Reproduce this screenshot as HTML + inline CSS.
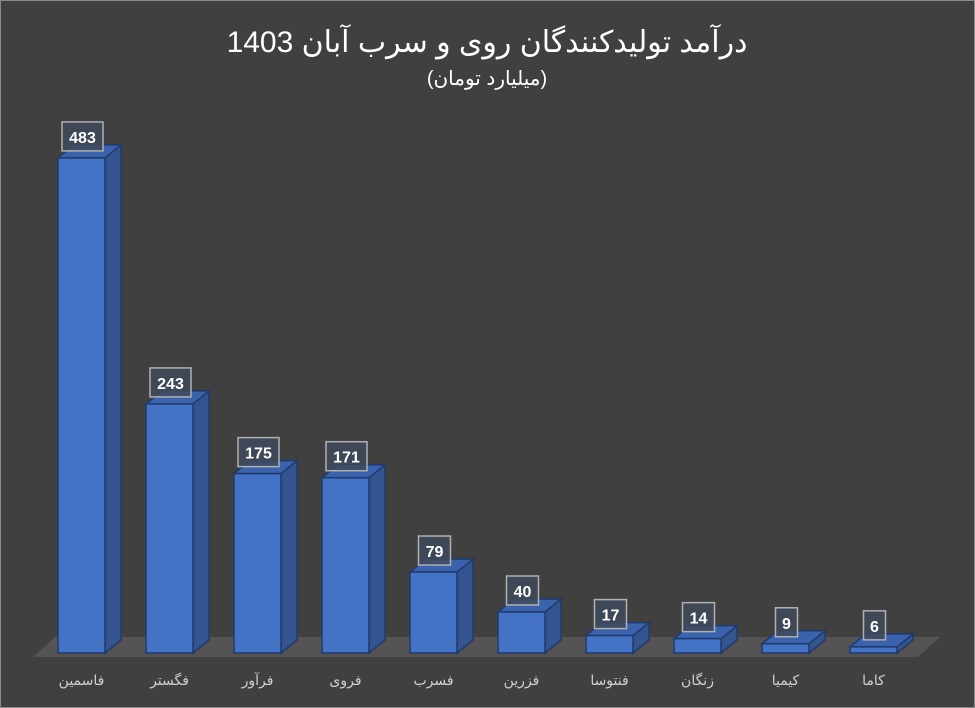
<!DOCTYPE html>
<html><head><meta charset="utf-8"><style>
body{margin:0;background:#404040;}
svg{display:block}
</style></head><body>
<svg width="975" height="708" viewBox="0 0 975 708" xmlns="http://www.w3.org/2000/svg">
<rect x="0.5" y="0.5" width="974" height="707" fill="#404040" stroke="#8a8a8a"/>
<text x="487" y="52" text-anchor="middle" font-family="Liberation Sans, Noto Sans CJK SC, DejaVu Sans, sans-serif" font-size="30" fill="#ffffff">درآمد تولیدکنندگان روی و سرب آبان 1403</text>
<text x="487" y="85" text-anchor="middle" font-family="Liberation Sans, DejaVu Sans, sans-serif" font-size="20" fill="#ffffff">(میلیارد تومان)</text>
<polygon points="33,657 918,657 940,637 55,637" fill="#555353"/>
<g id="bars" font-family="Liberation Sans, DejaVu Sans, sans-serif"></g>
</svg>
<script>
var d=[[483,"فاسمین"],[243,"فگستر"],[175,"فرآور"],[171,"فروی"],[79,"فسرب"],[40,"فزرین"],[17,"فنتوسا"],[14,"زنگان"],[9,"کیمیا"],[6,"کاما"]];
var g=document.getElementById('bars'),s='';
d.forEach(function(e,i){
var x=58+i*88,w=47,b=653,t=b-e[0]*1.025,dx=16,dy=13;
s+='<polygon points="'+(x+w)+','+t+' '+(x+w+dx)+','+(t-dy)+' '+(x+w+dx)+','+(b-dy)+' '+(x+w)+','+b+'" fill="#34548f" stroke="#203a6b" stroke-width="1.5"/>';
s+='<polygon points="'+x+','+t+' '+(x+dx)+','+(t-dy)+' '+(x+w+dx)+','+(t-dy)+' '+(x+w)+','+t+'" fill="#3a62ad" stroke="#203a6b" stroke-width="1.5"/>';
s+='<rect x="'+x+'" y="'+t+'" width="'+w+'" height="'+(b-t)+'" fill="#4472c4" stroke="#203a6b" stroke-width="1.5"/>';
var lw=String(e[0]).length>1?(String(e[0]).length*9+14):22,cx=x+w/2+1,by=t-36;
s+='<rect x="'+(cx-lw/2)+'" y="'+by+'" width="'+lw+'" height="29" fill="#404a5c" fill-opacity="0.85" stroke="#b0b0b0" stroke-width="1.5"/>';
s+='<text x="'+cx+'" y="'+(by+21)+'" text-anchor="middle" font-size="16" font-weight="bold" fill="#fff">'+e[0]+'</text>';
s+='<text x="'+(x+w/2)+'" y="685" text-anchor="middle" font-size="14" fill="#d0d0d0">'+e[1]+'</text>';
});
g.innerHTML=s;
</script>
</body></html>
